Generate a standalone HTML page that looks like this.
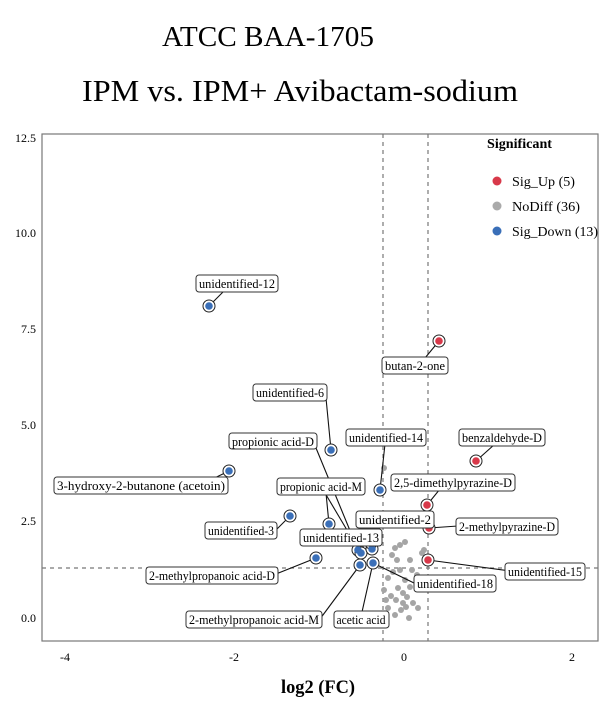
<!DOCTYPE html><html><head><style>body{margin:0;background:#fff}svg{display:block}text{font-family:"Liberation Serif",serif}</style></head><body>
<svg width="611" height="704" viewBox="0 0 611 704" xmlns="http://www.w3.org/2000/svg">
<text x="268" y="46" font-size="29" text-anchor="middle" textLength="212" lengthAdjust="spacingAndGlyphs">ATCC BAA-1705</text>
<text x="300" y="101" font-size="31" text-anchor="middle" textLength="436" lengthAdjust="spacingAndGlyphs">IPM vs. IPM+ Avibactam-sodium</text>
<rect x="42" y="134" width="556" height="507" fill="none" stroke="#777" stroke-width="1.2"/>
<g stroke="#777" stroke-dasharray="4,4" stroke-width="1.2">
<line x1="383" y1="134" x2="383" y2="641"/><line x1="428" y1="134" x2="428" y2="641"/>
<line x1="42" y1="568" x2="598" y2="568"/></g>
<g font-size="12" text-anchor="end"><text x="36" y="142">12.5</text><text x="36" y="237">10.0</text><text x="36" y="333">7.5</text><text x="36" y="429">5.0</text><text x="36" y="525">2.5</text><text x="36" y="622">0.0</text></g>
<g font-size="12" text-anchor="middle"><text x="65" y="661">-4</text><text x="234" y="661">-2</text><text x="404" y="661">0</text><text x="572" y="661">2</text></g>
<text x="318" y="693" font-size="19" font-weight="bold" text-anchor="middle" textLength="74" lengthAdjust="spacingAndGlyphs">log2 (FC)</text>
<text x="487" y="148" font-size="14" font-weight="bold" textLength="65" lengthAdjust="spacingAndGlyphs">Significant</text>
<circle cx="497" cy="181" r="4.5" fill="#d8394a"/><text x="512" y="186" font-size="14" textLength="63" lengthAdjust="spacingAndGlyphs">Sig_Up (5)</text>
<circle cx="497" cy="206" r="4.5" fill="#aaa"/><text x="512" y="211" font-size="14" textLength="68" lengthAdjust="spacingAndGlyphs">NoDiff (36)</text>
<circle cx="497" cy="231" r="4.5" fill="#3a6fb8"/><text x="512" y="236" font-size="14" textLength="86" lengthAdjust="spacingAndGlyphs">Sig_Down (13)</text>
<g fill="#a5a5a5">
<circle cx="395" cy="548" r="3"/><circle cx="400" cy="545" r="3"/><circle cx="405" cy="542" r="3"/><circle cx="392" cy="555" r="3"/><circle cx="397" cy="560" r="3"/><circle cx="388" cy="578" r="3"/><circle cx="393" cy="572" r="3"/><circle cx="400" cy="570" r="3"/><circle cx="405" cy="580" r="3"/><circle cx="398" cy="588" r="3"/><circle cx="391" cy="596" r="3"/><circle cx="396" cy="600" r="3"/><circle cx="403" cy="593" r="3"/><circle cx="407" cy="597" r="3"/><circle cx="403" cy="603" r="3"/><circle cx="406" cy="607" r="3"/><circle cx="401" cy="610" r="3"/><circle cx="410" cy="587" r="3"/><circle cx="413" cy="603" r="3"/><circle cx="418" cy="608" r="3"/><circle cx="388" cy="608" r="3"/><circle cx="384" cy="590" r="3"/><circle cx="412" cy="570" r="3"/><circle cx="417" cy="575" r="3"/><circle cx="422" cy="553" r="3"/><circle cx="424" cy="550" r="3"/><circle cx="410" cy="560" r="3"/><circle cx="386" cy="600" r="3"/><circle cx="409" cy="618" r="3"/><circle cx="395" cy="615" r="3"/><circle cx="384" cy="468" r="3"/>
</g>
<g stroke="#111" stroke-width="1.1">
<line x1="209" y1="306" x2="225" y2="290"/><line x1="439" y1="341" x2="425" y2="358"/><line x1="331" y1="450" x2="326" y2="398"/><line x1="476" y1="461" x2="495" y2="444"/><line x1="229" y1="471" x2="200" y2="485"/><line x1="380" y1="490" x2="385" y2="444"/><line x1="427" y1="505" x2="440" y2="489"/><line x1="290" y1="516" x2="276" y2="530"/><line x1="329" y1="524" x2="326" y2="493"/><line x1="360" y1="552" x2="325" y2="493"/><line x1="316" y1="448" x2="358" y2="550"/><line x1="429" y1="528" x2="458" y2="526"/><line x1="316" y1="558" x2="276" y2="574"/><line x1="428" y1="560" x2="510" y2="571"/><line x1="373" y1="563" x2="414" y2="583"/><line x1="360" y1="565" x2="320" y2="619"/><line x1="373" y1="563" x2="362" y2="612"/><line x1="372" y1="549" x2="380" y2="527"/>
</g>
<g stroke="#222" stroke-width="1" fill="#fff">
<circle cx="209" cy="306" r="6"/><circle cx="439" cy="341" r="6"/><circle cx="331" cy="450" r="6"/><circle cx="476" cy="461" r="6"/><circle cx="229" cy="471" r="6"/><circle cx="380" cy="490" r="6"/><circle cx="427" cy="505" r="6"/><circle cx="290" cy="516" r="6"/><circle cx="329" cy="524" r="6"/><circle cx="429" cy="528" r="6"/><circle cx="316" cy="558" r="6"/><circle cx="428" cy="560" r="6"/><circle cx="358" cy="550" r="6"/><circle cx="361" cy="553" r="6"/><circle cx="372" cy="549" r="6"/><circle cx="360" cy="565" r="6"/><circle cx="373" cy="563" r="6"/><circle cx="371" cy="543" r="6"/>
</g>
<g fill="#3a6fb8"><circle cx="209" cy="306" r="3.8"/><circle cx="331" cy="450" r="3.8"/><circle cx="229" cy="471" r="3.8"/><circle cx="380" cy="490" r="3.8"/><circle cx="290" cy="516" r="3.8"/><circle cx="329" cy="524" r="3.8"/><circle cx="316" cy="558" r="3.8"/><circle cx="358" cy="550" r="3.8"/><circle cx="361" cy="553" r="3.8"/><circle cx="372" cy="549" r="3.8"/><circle cx="360" cy="565" r="3.8"/><circle cx="373" cy="563" r="3.8"/><circle cx="371" cy="543" r="3.8"/></g>
<g fill="#d8394a"><circle cx="439" cy="341" r="3.8"/><circle cx="476" cy="461" r="3.8"/><circle cx="427" cy="505" r="3.8"/><circle cx="429" cy="528" r="3.8"/><circle cx="428" cy="560" r="3.8"/></g>
<g font-size="13" text-anchor="middle" lengthAdjust="spacingAndGlyphs">
<g fill="#fff" stroke="#333" stroke-width="1">
<rect x="196" y="275" width="82" height="17" rx="3"/><rect x="382" y="357" width="66" height="17" rx="3"/><rect x="253" y="384" width="74" height="17" rx="3"/><rect x="459" y="429" width="86" height="17" rx="3"/><rect x="229" y="433" width="88" height="16" rx="3"/><rect x="346" y="429" width="80" height="17" rx="3"/><rect x="54" y="477" width="174" height="17" rx="3"/><rect x="391" y="474" width="124" height="17" rx="3"/><rect x="277" y="478" width="88" height="17" rx="3"/><rect x="356" y="511" width="78" height="17" rx="3"/><rect x="456" y="518" width="102" height="17" rx="3"/><rect x="205" y="522" width="72" height="17" rx="3"/><rect x="300" y="529" width="82" height="17" rx="3"/><rect x="146" y="567" width="132" height="17" rx="3"/><rect x="505" y="563" width="80" height="17" rx="3"/><rect x="414" y="575" width="82" height="17" rx="3"/><rect x="186" y="611" width="136" height="17" rx="3"/><rect x="334" y="611" width="55" height="17" rx="3"/>
</g>
<text x="237" y="288" textLength="76" lengthAdjust="spacingAndGlyphs">unidentified-12</text>
<text x="415" y="370" textLength="60" lengthAdjust="spacingAndGlyphs">butan-2-one</text>
<text x="290" y="397" textLength="68" lengthAdjust="spacingAndGlyphs">unidentified-6</text>
<text x="502" y="442" textLength="80" lengthAdjust="spacingAndGlyphs">benzaldehyde-D</text>
<text x="273" y="446" textLength="82" lengthAdjust="spacingAndGlyphs">propionic acid-D</text>
<text x="386" y="442" textLength="74" lengthAdjust="spacingAndGlyphs">unidentified-14</text>
<text x="141" y="490" textLength="168" lengthAdjust="spacingAndGlyphs">3-hydroxy-2-butanone (acetoin)</text>
<text x="453" y="487" textLength="118" lengthAdjust="spacingAndGlyphs">2,5-dimethylpyrazine-D</text>
<text x="321" y="491" textLength="82" lengthAdjust="spacingAndGlyphs">propionic acid-M</text>
<text x="395" y="524" textLength="72" lengthAdjust="spacingAndGlyphs">unidentified-2</text>
<text x="507" y="531" textLength="96" lengthAdjust="spacingAndGlyphs">2-methylpyrazine-D</text>
<text x="241" y="535" textLength="66" lengthAdjust="spacingAndGlyphs">unidentified-3</text>
<text x="341" y="542" textLength="76" lengthAdjust="spacingAndGlyphs">unidentified-13</text>
<text x="212" y="580" textLength="126" lengthAdjust="spacingAndGlyphs">2-methylpropanoic acid-D</text>
<text x="545" y="576" textLength="74" lengthAdjust="spacingAndGlyphs">unidentified-15</text>
<text x="455" y="588" textLength="76" lengthAdjust="spacingAndGlyphs">unidentified-18</text>
<text x="254" y="624" textLength="130" lengthAdjust="spacingAndGlyphs">2-methylpropanoic acid-M</text>
<text x="361" y="624" textLength="49" lengthAdjust="spacingAndGlyphs">acetic acid</text>
</g>
</svg></body></html>
